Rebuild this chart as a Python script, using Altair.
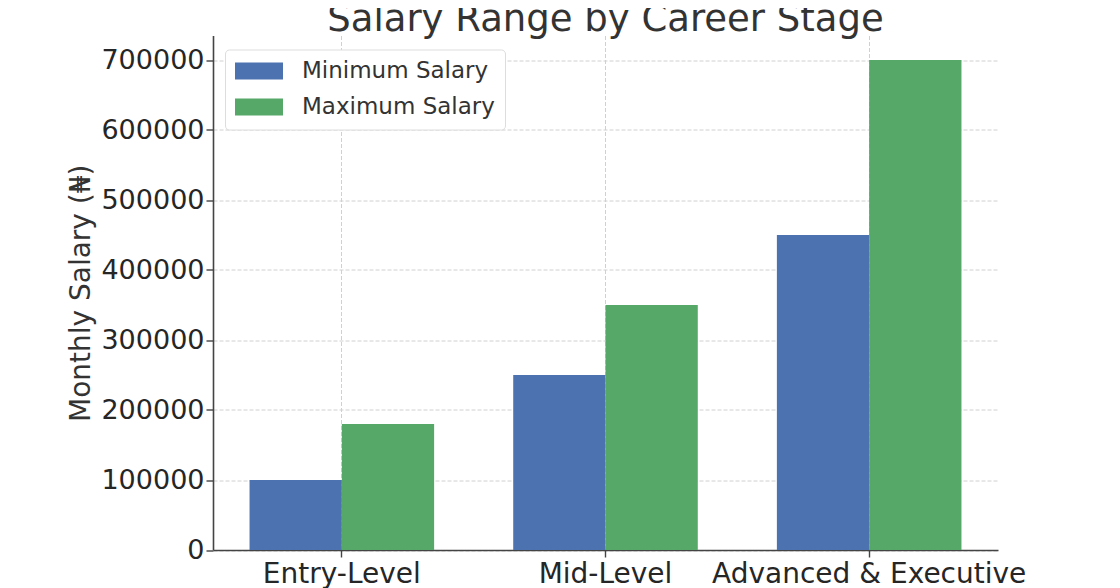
import altair as alt
import pandas as pd

stages = ["Entry-Level", "Mid-Level", "Advanced & Executive"]
series = ["Minimum Salary", "Maximum Salary"]
min_salary = [100000, 250000, 450000]
max_salary = [180000, 350000, 700000]
colors = ["#4C72B0", "#55A868"]
y_ticks = [0, 100000, 200000, 300000, 400000, 500000, 600000, 700000]

rows = []
for i, s in enumerate(stages):
    rows.append({"stage": s, "series": series[0], "salary": min_salary[i]})
    rows.append({"stage": s, "series": series[1], "salary": max_salary[i]})
df = pd.DataFrame(rows)

FONT = "DejaVu Sans"
W, H = 785, 514.5

chart = (
    alt.Chart(df)
    .mark_bar(stroke=None)
    .encode(
        x=alt.X(
            "stage:N",
            sort=stages,
            scale=alt.Scale(paddingInner=0.3, paddingOuter=0.1386),
            axis=alt.Axis(
                title=None,
                labelAngle=0,
                bandPosition=0.5,
                grid=True,
                tickSize=7,
                labelPadding=3,
                labelFontSize=28,
                labelLimit=0,
            ),
        ),
        xOffset=alt.XOffset(
            "series:N", sort=series, scale=alt.Scale(paddingInner=0, paddingOuter=0)
        ),
        y=alt.Y(
            "salary:Q",
            scale=alt.Scale(domain=[0, 735000], nice=False, zero=True),
            axis=alt.Axis(
                title="Monthly Salary (₦)",
                values=y_ticks,
                format="d",
                tickSize=7,
                labelPadding=2,
                labelFontSize=27,
                titleFontSize=28,
                titleX=-124,
                titleY=H / 2,
                titleAngle=270,
                titleBaseline="alphabetic",
                titleAlign="center",
            ),
        ),
        color=alt.Color(
            "series:N",
            sort=series,
            scale=alt.Scale(domain=series, range=colors),
            legend=alt.Legend(
                title=None,
                orient="none",
                legendX=12,
                legendY=14,
                direction="vertical",
                symbolType="M-1.353,-1H4.294V1H-1.353Z",
                symbolSize=289,
                symbolStrokeWidth=0,
                symbolOpacity=1,
                labelFontSize=23,
                labelFont=FONT,
                labelColor="#333333",
                labelOffset=44,
                labelLimit=0,
                padding=10,
                rowPadding=12,
                strokeColor="#dddddd",
                fillColor="#ffffff",
                cornerRadius=4,
            ),
        ),
    )
    .properties(
        width=W,
        height=H,
        title=alt.TitleParams(
            "Salary Range by Career Stage",
            fontSize=37,
            font=FONT,
            fontWeight="normal",
            color="#333333",
            anchor="middle",
            frame="group",
            baseline="alphabetic",
            offset=1,
            dy=33,
        ),
        autosize=alt.AutoSizeParams(type="none"),
        padding={"left": 205, "top": 27.5, "right": 100, "bottom": 38},
    )
    .configure_view(stroke=None)
    .configure_axis(
        labelFont=FONT,
        titleFont=FONT,
        labelColor="#262626",
        titleColor="#333333",
        titleFontWeight="normal",
        domainColor="#444444",
        domainWidth=1.6,
        tickColor="#444444",
        tickWidth=1.4,
        gridColor="#d0d0d0",
        gridDash=[4, 2],
        gridWidth=1,
    )
)

chart.save("out.html", embed_options={"renderer": "svg", "actions": False})
